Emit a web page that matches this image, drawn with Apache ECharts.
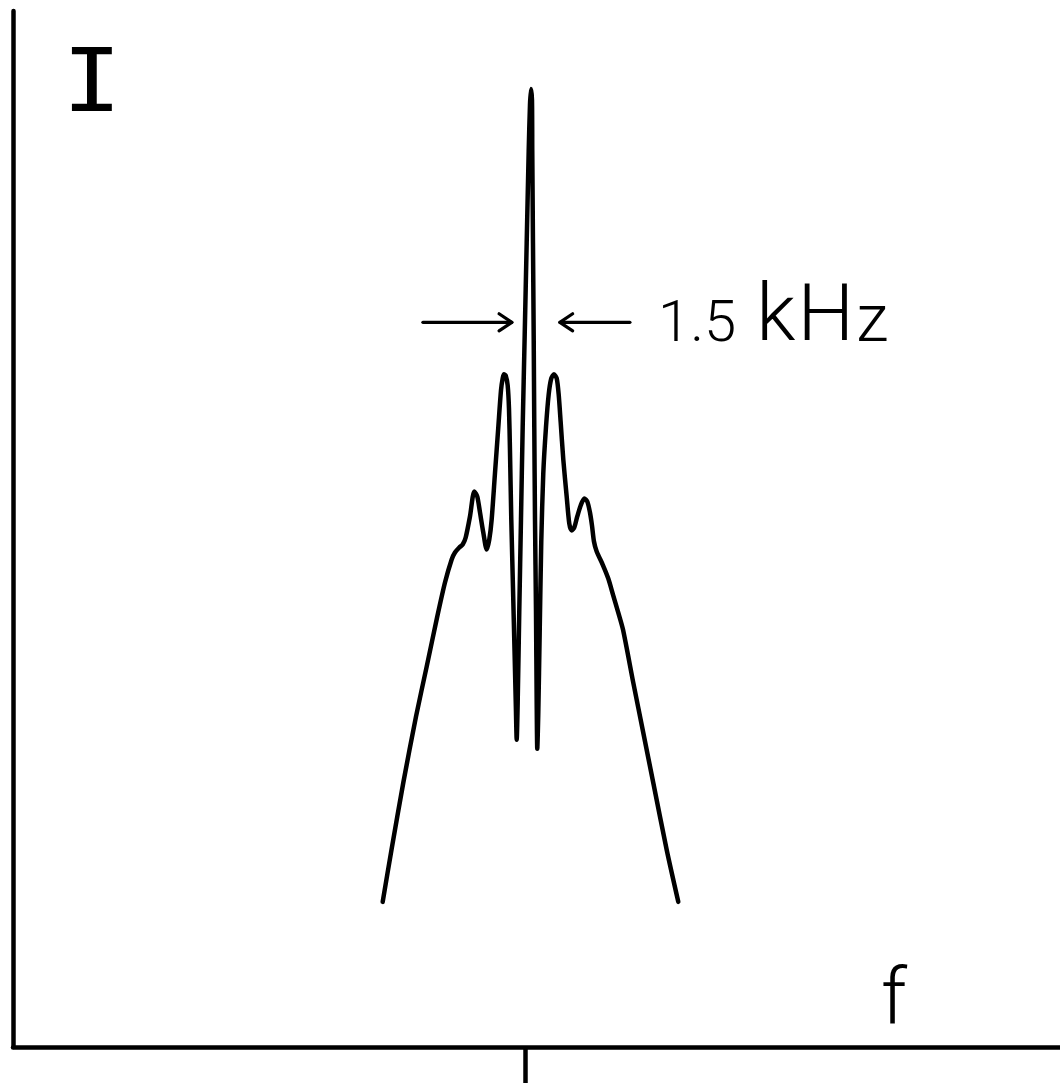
<!DOCTYPE html>
<html>
<head>
<meta charset="utf-8">
<title>Spectrum I(f)</title>
<script src="https://cdn.jsdelivr.net/npm/echarts@6/dist/echarts.min.js"></script>
<style>
  html, body { margin: 0; padding: 0; background: #fff; }
  #chart { width: 1060px; height: 1083px; }
</style>
</head>
<body>
<div id="chart"></div>
<script>
// Frequency offset from the carrier, kHz
const freqKHz = [
  -4.447, -4.172, -3.803, -3.406, -3.072, -2.741, -2.500, -2.291, -2.188, -2.053,
  -1.947, -1.853, -1.719, -1.584, -1.491, -1.406, -1.303, -1.197, -1.116, -1.041,
  -0.938, -0.834, -0.750, -0.697, -0.656, -0.603, -0.541, -0.500, -0.469, -0.428,
  -0.375, -0.322, -0.281, -0.259, -0.228, -0.178, -0.125, -0.072, -0.009, 0.053,
  0.116, 0.156, 0.188, 0.219, 0.228, 0.250, 0.272, 0.291, 0.313, 0.344,
  0.366, 0.384, 0.416, 0.459, 0.509, 0.572, 0.656, 0.741, 0.822, 0.906,
  0.991, 1.053, 1.116, 1.197, 1.303, 1.384, 1.459, 1.541, 1.634, 1.741,
  1.853, 1.947, 2.031, 2.094, 2.156, 2.241, 2.428, 2.603, 2.750, 2.906,
  3.063, 3.384, 3.697, 4.009, 4.428, 4.791
];
// Intensity, arbitrary units
const intensity = [
  14.5, 19.7, 26.4, 33.0, 38.0, 43.0, 46.4, 48.7, 49.4, 49.9,
  50.2, 50.9, 53.0, 55.5, 55.0, 53.4, 51.4, 49.7, 50.7, 52.7,
  57.3, 61.9, 65.6, 66.8, 67.2, 67.1, 66.1, 63.8, 59.6, 52.7,
  45.9, 39.0, 33.4, 30.7, 34.4, 43.6, 52.7, 61.9, 71.1, 80.3,
  89.5, 94.1, 95.7, 94.6, 89.5, 80.3, 71.1, 61.9, 52.7, 43.6,
  34.4, 29.8, 33.4, 41.3, 50.5, 57.3, 61.9, 65.2, 66.8, 67.2,
  66.8, 65.2, 62.4, 58.7, 55.0, 52.3, 51.6, 51.9, 53.0, 54.1,
  54.8, 54.5, 53.4, 52.1, 50.5, 49.5, 48.2, 46.8, 45.2, 43.5,
  41.7, 36.4, 31.4, 26.4, 19.7, 14.5
];

// Width marker on the central line
const markerStart = -0.41;   // kHz, left arrow tip
const markerWidth = 1.5;     // kHz
const markerLevel = 72.4;    // intensity level of the arrows

// Axis ranges and the single centre tick
const fMin = -16, fMax = 16.72;
const iMin = 0, iMax = 103.5;
const centreTicks = [0];

const curve = freqKHz.map((f, i) => [f, intensity[i]]);

// Arrow built in data space: shaft from tail to tip, open chevron head at tip
function arrowSeries(name, tail, tip) {
  const dir = Math.sign(tip - tail);
  const headLen = 0.4, headHalf = 0.85;
  const base = tip - dir * headLen;
  const common = {
    type: 'line', silent: true, symbol: 'none', animation: false,
    lineStyle: { color: '#000', width: 3.2, cap: 'round', join: 'round' }
  };
  return [
    Object.assign({ name: name + '-shaft', data: [[tail, markerLevel], [tip, markerLevel]] }, common),
    Object.assign({ name: name + '-head', data: [[base, markerLevel + headHalf], [tip, markerLevel], [base, markerLevel - headHalf]] }, common)
  ];
}

const chart = echarts.init(document.getElementById('chart'), null, { renderer: 'canvas' });

const thin = { fontFamily: 'Roboto', fontWeight: 300, fill: '#000', verticalAlign: 'bottom' };

chart.setOption({
  backgroundColor: '#ffffff',
  animation: false,
  grid: { left: 13, right: 0, top: 11, bottom: 36, containLabel: false },
  xAxis: {
    type: 'value', min: fMin, max: fMax,
    axisLine: { show: true, onZero: false, lineStyle: { color: '#000', width: 4.5 } },
    axisTick: { show: true, inside: false, length: 36, customValues: centreTicks,
                lineStyle: { color: '#000', width: 4.5 } },
    axisLabel: { show: false },
    splitLine: { show: false }
  },
  yAxis: {
    type: 'value', min: iMin, max: iMax,
    axisLine: { show: true, onZero: false, lineStyle: { color: '#000', width: 4.5 } },
    axisTick: { show: false },
    axisLabel: { show: false },
    splitLine: { show: false }
  },
  series: [
    {
      name: 'I(f)', type: 'line', data: curve, symbol: 'none', smooth: 0.25,
      lineStyle: { color: '#000', width: 4.5, join: 'round', cap: 'round' }
    },
    ...arrowSeries('right-pointing', markerStart - 2.78, markerStart),
    ...arrowSeries('left-pointing', markerStart + markerWidth + 2.19, markerStart + markerWidth)
  ],
  graphic: [
    {
      // serif capital drawn with a white outline over the fill for a thin pen stroke
      type: 'text', x: 92, y: 88, scaleX: 1.12, silent: true,
      style: { text: 'I', fill: '#000', font: '88px "DejaVu Sans Mono"',
               stroke: '#fff', lineWidth: 3.5,
               align: 'center', verticalAlign: 'middle' }
    },
    {
      type: 'text', x: 894, y: 1043, silent: true,
      style: { text: 'f', fill: '#000', fontFamily: 'Roboto', fontWeight: 300, fontSize: 78,
               align: 'center', verticalAlign: 'bottom' }
    },
    {
      type: 'text', x: 658, y: 360, silent: true,
      style: {
        text: '{a|1.5 }{b|k}{h|H}{c|z}',
        align: 'left', verticalAlign: 'bottom', fill: '#000',
        rich: {
          a: Object.assign({ fontSize: 58, padding: [0, 0, 5, 0] }, thin),
          b: Object.assign({ fontSize: 80, padding: [0, 0, 0, 6] }, thin),
          h: Object.assign({ fontSize: 80, padding: [0, 0, 0, 2] }, thin),
          c: Object.assign({ fontSize: 66, padding: [0, 0, 3, 2] }, thin)
        }
      }
    }
  ]
});
</script>
</body>
</html>
